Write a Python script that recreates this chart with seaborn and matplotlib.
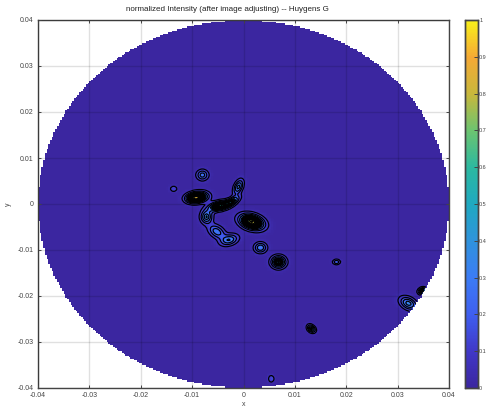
import numpy as np
import pandas as pd
import seaborn as sns
from matplotlib import pyplot as plt
from matplotlib.colors import LinearSegmentedColormap

# bright spots, x/y are centres, sig_a/sig_b widths along/across angle
spot_x = [-0.0080, -0.0136, -0.0095, -0.0082, -0.0047, -0.0022, -0.0010, -0.0072, 0.0016, -0.0052, -0.0028, 0.0033, 0.0068, 0.0181, 0.0132, 0.0054, 0.0321, 0.0348]
spot_y = [0.0063, 0.0033, 0.0013, 0.0017, -0.0004, 0.0006, 0.0037, -0.0028, -0.0039, -0.0060, -0.0078, -0.0095, -0.0126, -0.0126, -0.0271, -0.0380, -0.0216, -0.0189]
spot_peak = [0.27, 0.13, 0.72, 0.30, 0.62, 0.35, 0.33, 0.36, 0.82, 0.28, 0.30, 0.30, 0.52, 0.22, 0.40, 0.14, 0.34, 0.45]
sig_a = [0.00075, 0.00050, 0.00110, 0.00110, 0.00140, 0.00110, 0.00110, 0.00095, 0.00150, 0.00120, 0.00120, 0.00080, 0.00090, 0.00050, 0.00062, 0.00055, 0.00120, 0.00055]
sig_b = [0.00075, 0.00045, 0.00068, 0.00075, 0.00062, 0.00050, 0.00055, 0.00075, 0.00095, 0.00080, 0.00075, 0.00075, 0.00085, 0.00038, 0.00045, 0.00040, 0.00080, 0.00045]
spot_angle = [0, 0, 5, 0, 15, 35, 70, 90, 340, 320, 20, 0, 0, 0, 310, 90, 325, 30]

cbar_ticks = [0, 0.1, 0.2, 0.3, 0.4, 0.5, 0.6, 0.7, 0.8, 0.9, 1]
axis_ticks = [-0.04, -0.03, -0.02, -0.01, 0, 0.01, 0.02, 0.03, 0.04]
color_list = ['#3b26a0', '#4038c8', '#3f5ff0', '#3b7cf5', '#2f93dc', '#1fa9c0', '#2cb9a0', '#6cc470', '#c8b83c', '#f5a935', '#f8f01a']
contour_levels = [0.06, 0.14, 0.22, 0.3, 0.35, 0.375, 0.4, 0.425, 0.45, 0.475, 0.5, 0.525, 0.55, 0.575, 0.6, 0.625, 0.65, 0.675, 0.7, 0.75, 0.8]

plt.rcParams['font.family'] = ['Liberation Sans', 'DejaVu Sans']

# field on the same stepped grid the circle shows
n = 240
xs = np.linspace(-0.04, 0.04, n, endpoint=False) + 0.04 / n
xx, yy = np.meshgrid(xs, xs)
field = np.zeros_like(xx)
for i in range(len(spot_x)):
    t = np.deg2rad(spot_angle[i])
    dx = xx - spot_x[i]
    dy = yy - spot_y[i]
    a = dx * np.cos(t) + dy * np.sin(t)
    b = -dx * np.sin(t) + dy * np.cos(t)
    field += spot_peak[i] * np.exp(-0.5 * (a / sig_a[i]) ** 2 - 0.5 * (b / sig_b[i]) ** 2)
outside = xx ** 2 + yy ** 2 > 0.04 ** 2
df = pd.DataFrame(field)

fig = plt.figure(figsize=(4.87, 4.12), dpi=100)
ax = fig.add_axes([38 / 487, 1 - 388 / 412, 411 / 487, 368 / 412])
cax = fig.add_axes([465 / 487, 1 - 388 / 412, 13 / 487, 368 / 412])

cmap = LinearSegmentedColormap.from_list('parula_like', color_list)
sns.heatmap(df, mask=outside, ax=ax, cbar_ax=cax, cmap=cmap, vmin=0, vmax=1,
            xticklabels=False, yticklabels=False, rasterized=True)
ax.invert_yaxis()

ax.contour(np.arange(n) + 0.5, np.arange(n) + 0.5, np.ma.array(field, mask=outside),
           levels=contour_levels, colors='black', linewidths=0.85)

tick_pos = [(t + 0.04) / 0.08 * n for t in axis_ticks]
labels = ['%g' % t for t in axis_ticks]
ax.set_xticks(tick_pos)
ax.set_xticklabels(labels)
ax.set_yticks(tick_pos)
ax.set_yticklabels(labels)
ax.tick_params(direction='in', length=2.5, width=0.7, labelsize=5, colors='#444444', pad=3,
               top=True, right=True, left=True, bottom=True)
ax.set_axisbelow(False)
ax.grid(True, color='black', alpha=0.12, linewidth=1)
ax.set_xlabel('x', fontsize=5, labelpad=1.5, color='#444444')
ax.set_ylabel('y', fontsize=5, labelpad=4, color='#444444')
ax.set_title('normalized Intensity (after image adjusting) -- Huygens G', fontsize=5.8, pad=6.5, x=0.46, color='#222222')
for s in ax.spines.values():
    s.set_visible(True)
    s.set_linewidth(1)
    s.set_color('#444444')

cax.set_yticks(cbar_ticks)
cax.set_yticklabels(['%g' % t for t in cbar_ticks])
cax.tick_params(direction='in', length=3, width=0.7, labelsize=4, colors='#444444', pad=0.8)
for s in cax.spines.values():
    s.set_visible(True)
    s.set_linewidth(1)
    s.set_color('#444444')

fig.savefig('out.png', dpi=100)
